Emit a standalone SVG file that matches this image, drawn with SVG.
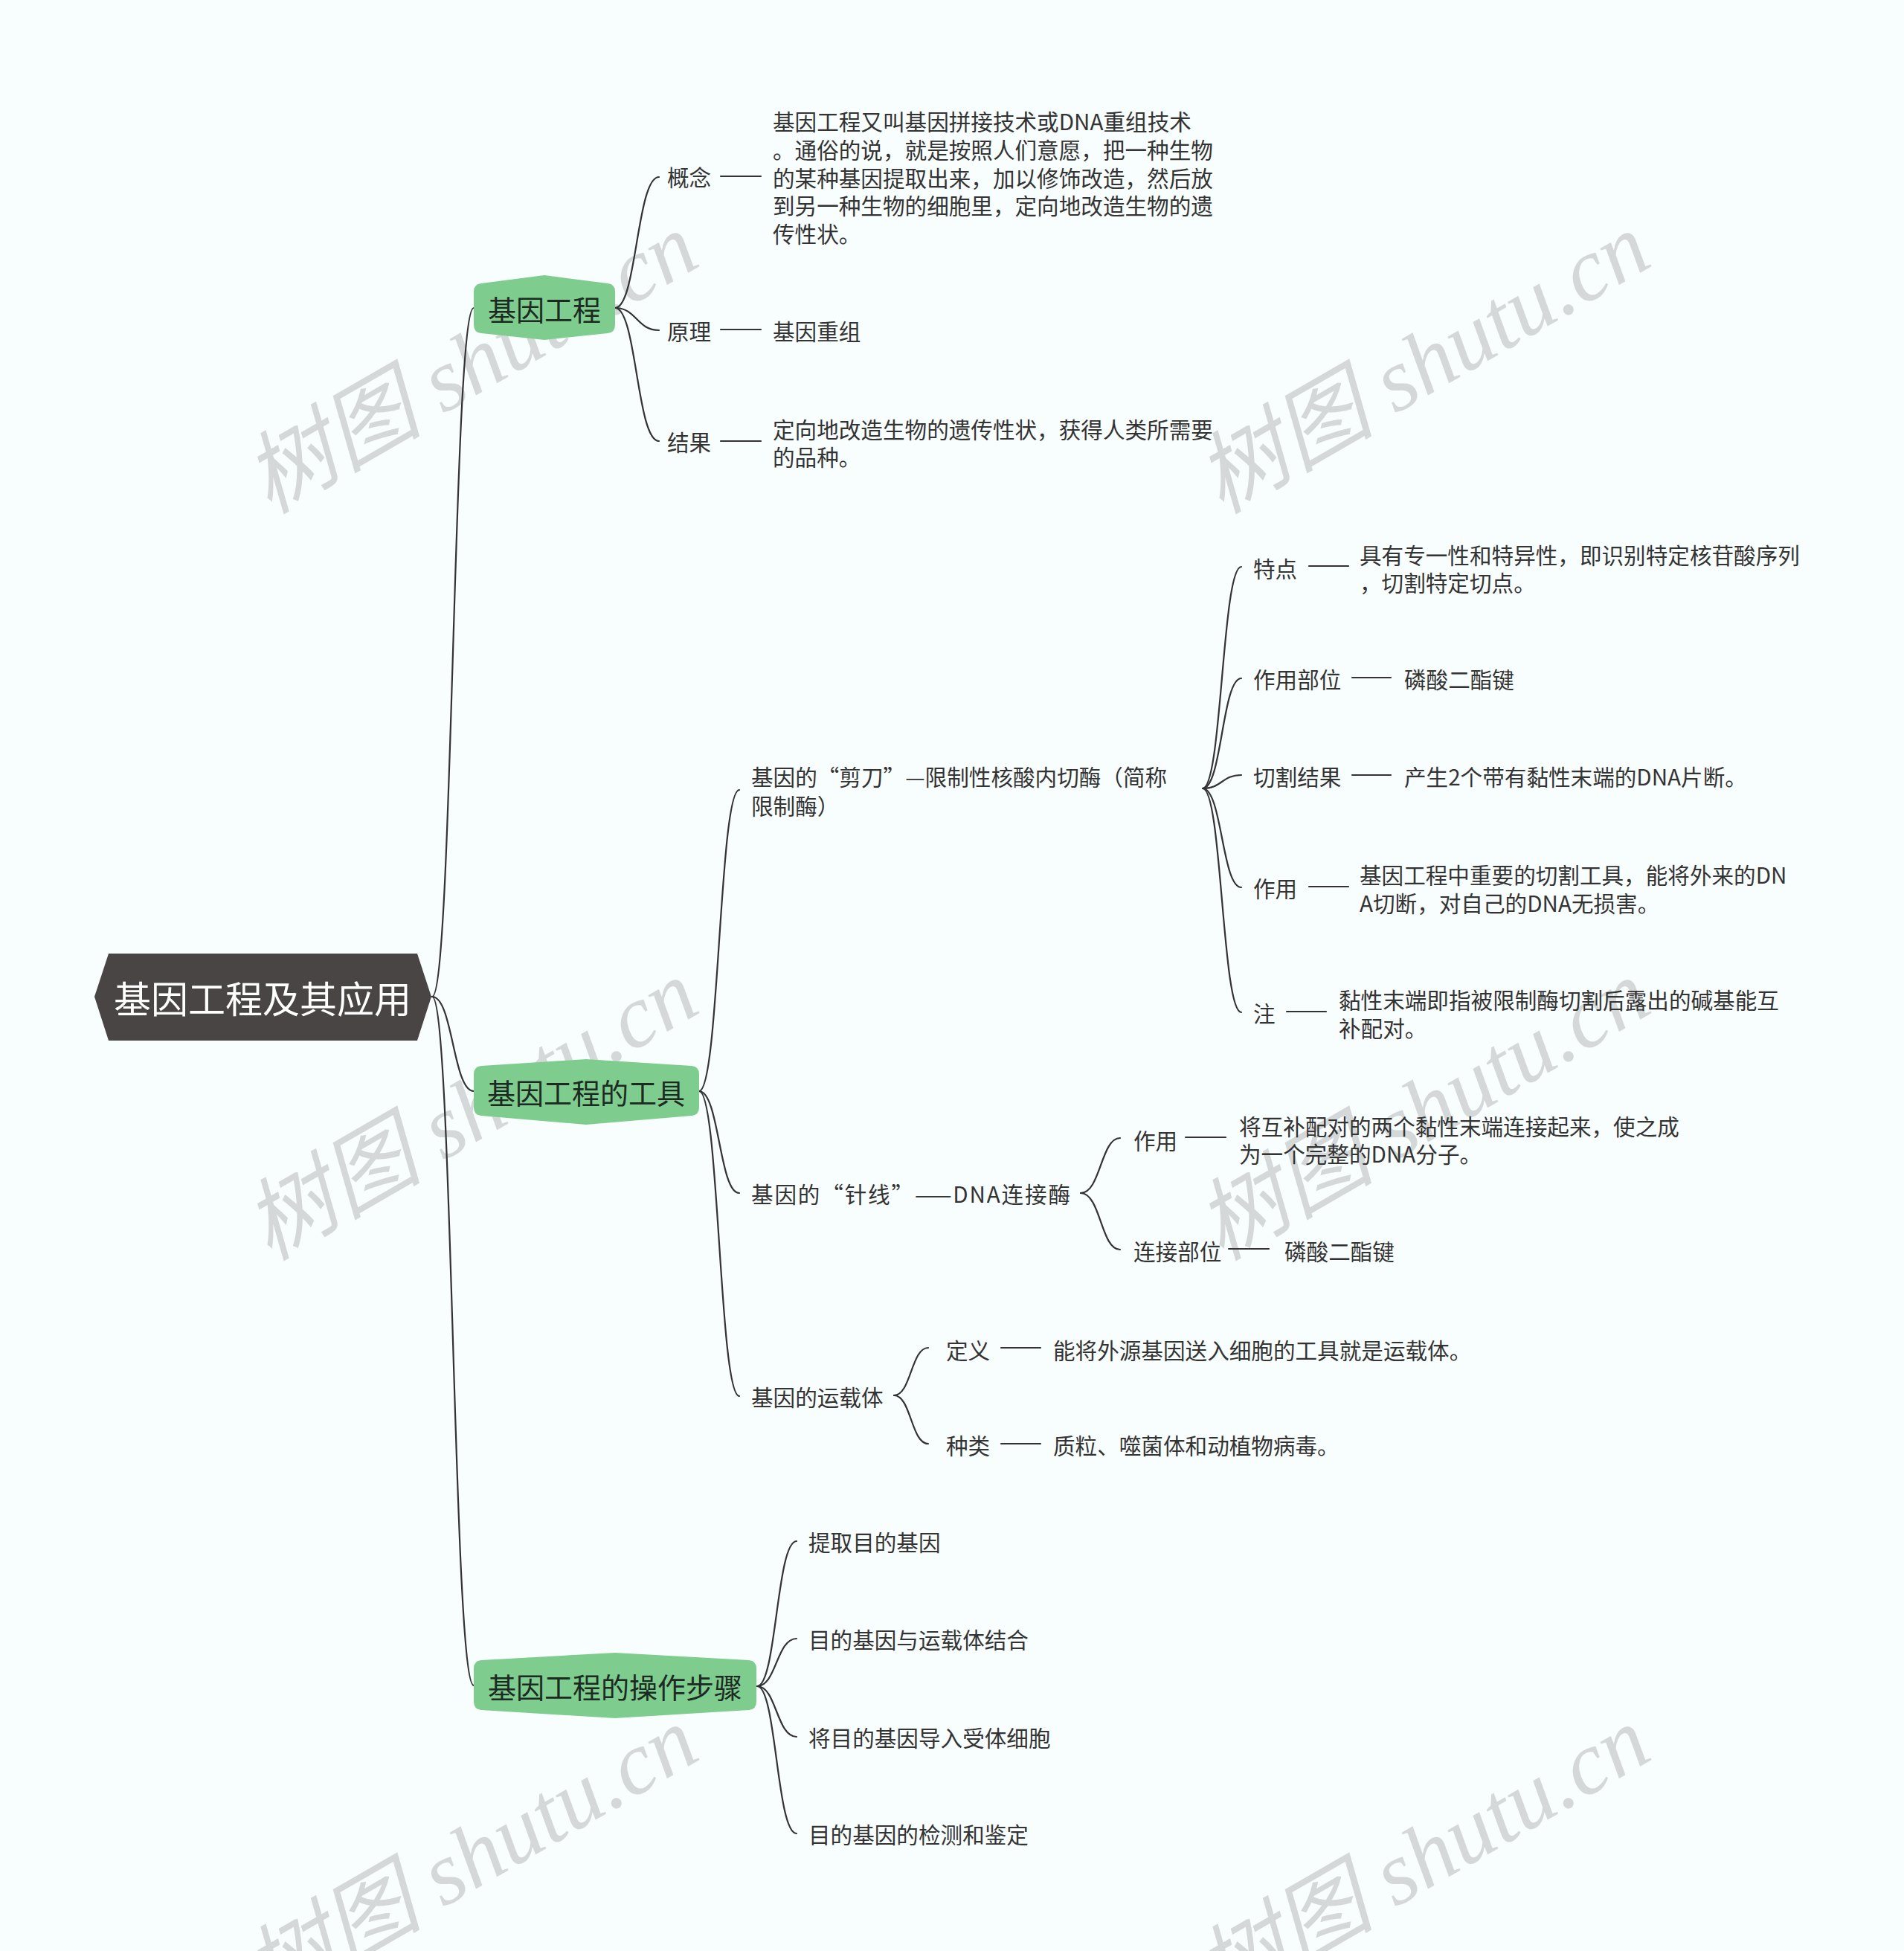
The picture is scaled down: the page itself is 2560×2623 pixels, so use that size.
<svg xmlns="http://www.w3.org/2000/svg" width="2560" height="2623" viewBox="0 0 2560 2623">
<defs>
<style>
.bg{fill:#f8fdfd}
.wm{font-family:"Liberation Serif","Noto Sans CJK SC",serif;font-style:italic;font-size:120px;fill:#d4d8d8}
.ln{fill:none;stroke:#333;stroke-width:2.2;stroke-linecap:round}
.t{font-family:"Noto Sans CJK SC","Noto Sans",sans-serif;font-size:29.6px;fill:#333;dominant-baseline:central}
.gt{font-family:"Noto Sans CJK SC","Noto Sans",sans-serif;font-size:38px;fill:#1d2a21;dominant-baseline:central;text-anchor:middle}
.rt{font-family:"Noto Sans CJK SC","Noto Sans",sans-serif;font-size:50px;fill:#ffffff;dominant-baseline:central;text-anchor:middle}
.gn{fill:#7ecd8f}
.rn{fill:#4a4545}
</style>
</defs>
<rect class="bg" x="0" y="0" width="2560" height="2623"/>

<g id="watermarks">
<text class="wm" transform="translate(362,692) rotate(-30)">树图 shutu.cn</text>
<text class="wm" transform="translate(1642,692) rotate(-30)">树图 shutu.cn</text>
<text class="wm" transform="translate(362,1696) rotate(-30)">树图 shutu.cn</text>
<text class="wm" transform="translate(1642,1696) rotate(-30)">树图 shutu.cn</text>
<text class="wm" transform="translate(362,2700) rotate(-30)">树图 shutu.cn</text>
<text class="wm" transform="translate(1642,2700) rotate(-30)">树图 shutu.cn</text>
</g>

<g id="connectors">
<path class="ln" d="M581,1340 C609,1340 609,414 637,414"/>
<path class="ln" d="M581,1340 C609,1340 609,1467 637,1467"/>
<path class="ln" d="M581,1340 C609,1340 609,2266 637,2266"/>

<path class="ln" d="M827,414 C856,414 856,238 886,238"/>
<path class="ln" d="M827,414 C856,414 856,444 886,444"/>
<path class="ln" d="M827,414 C856,414 856,593 886,593"/>
<path class="ln" d="M969,237 H1023"/>
<path class="ln" d="M969,443 H1023"/>
<path class="ln" d="M969,593 H1023"/>

<path class="ln" d="M940,1467 C967,1467 967,1062 994,1062"/>
<path class="ln" d="M940,1467 C967,1467 967,1604 994,1604"/>
<path class="ln" d="M940,1467 C967,1467 967,1877 994,1877"/>

<path class="ln" d="M1617,1060 C1643,1060 1643,762 1669,762"/>
<path class="ln" d="M1617,1060 C1643,1060 1643,912 1669,912"/>
<path class="ln" d="M1617,1060 C1643,1060 1643,1042 1669,1042"/>
<path class="ln" d="M1617,1060 C1643,1060 1643,1193 1669,1193"/>
<path class="ln" d="M1617,1060 C1643,1060 1643,1361 1669,1361"/>
<path class="ln" d="M1760,761 H1813"/>
<path class="ln" d="M1818,911 H1870"/>
<path class="ln" d="M1818,1042 H1870"/>
<path class="ln" d="M1760,1192 H1813"/>
<path class="ln" d="M1730,1360 H1783"/>

<path class="ln" d="M1453,1604 C1480,1604 1480,1530 1506,1530"/>
<path class="ln" d="M1453,1604 C1480,1604 1480,1680 1506,1680"/>
<path class="ln" d="M1594,1529 H1648"/>
<path class="ln" d="M1652,1679 H1706"/>

<path class="ln" d="M1202,1876 C1225,1876 1225,1812 1248,1812"/>
<path class="ln" d="M1202,1876 C1225,1876 1225,1941 1248,1941"/>
<path class="ln" d="M1346,1812 H1399"/>
<path class="ln" d="M1346,1941 H1399"/>

<path class="ln" d="M1018,2267 C1044,2267 1044,2072 1071,2072"/>
<path class="ln" d="M1018,2267 C1044,2267 1044,2203 1071,2203"/>
<path class="ln" d="M1018,2267 C1044,2267 1044,2335 1071,2335"/>
<path class="ln" d="M1018,2267 C1044,2267 1044,2465 1071,2465"/>
</g>

<g id="root">
<polygon class="rn" points="146,1282 561,1282 580,1340 561,1399 146,1399 127,1340"/>
<text class="rt" x="353" y="1340">基因工程及其应用</text>
</g>

<g id="n1">
<path class="gn" d="M637,392 Q637,382 647,381 L732,370 L817,381 Q827,382 827,392 L827,437 Q827,447 817,448 L732,457 L647,448 Q637,447 637,437 Z"/>
<text class="gt" x="732" y="414">基因工程</text>
</g>
<g id="n1a"><text class="t" x="897" y="237">概念</text></g>
<g id="n1a1"><text class="t" x="1039" y="162">基因工程又叫基因拼接技术或DNA重组技术</text><text class="t" x="1039" y="200">。通俗的说，就是按照人们意愿，把一种生物</text><text class="t" x="1039" y="238">的某种基因提取出来，加以修饰改造，然后放</text><text class="t" x="1039" y="275">到另一种生物的细胞里，定向地改造生物的遗</text><text class="t" x="1039" y="313">传性状。</text></g>
<g id="n1b"><text class="t" x="897" y="444">原理</text></g>
<g id="n1b1"><text class="t" x="1039" y="444">基因重组</text></g>
<g id="n1c"><text class="t" x="897" y="593">结果</text></g>
<g id="n1c1"><text class="t" x="1039" y="576">定向地改造生物的遗传性状，获得人类所需要</text><text class="t" x="1039" y="613">的品种。</text></g>

<g id="n2">
<path class="gn" d="M637,1444 Q637,1434 647,1433 L788,1424 L930,1433 Q940,1434 940,1444 L940,1489 Q940,1499 930,1500 L788,1512 L647,1500 Q637,1499 637,1489 Z"/>
<text class="gt" x="788" y="1467">基因工程的工具</text>
</g>
<g id="n2a"><text class="t" x="1010" y="1043">基因的“剪刀”—限制性核酸内切酶（简称</text><text class="t" x="1010" y="1082">限制酶）</text></g>
<g id="n2a1"><text class="t" x="1685" y="763">特点</text></g>
<g id="n2a1v"><text class="t" x="1828" y="745">具有专一性和特异性，即识别特定核苷酸序列</text><text class="t" x="1828" y="782">，切割特定切点。</text></g>
<g id="n2a2"><text class="t" x="1685" y="912">作用部位</text></g>
<g id="n2a2v"><text class="t" x="1888" y="912">磷酸二酯键</text></g>
<g id="n2a3"><text class="t" x="1685" y="1043">切割结果</text></g>
<g id="n2a3v"><text class="t" x="1888" y="1043">产生2个带有黏性末端的DNA片断。</text></g>
<g id="n2a4"><text class="t" x="1685" y="1193">作用</text></g>
<g id="n2a4v"><text class="t" x="1828" y="1175">基因工程中重要的切割工具，能将外来的DN</text><text class="t" x="1828" y="1213">A切断，对自己的DNA无损害。</text></g>
<g id="n2a5"><text class="t" x="1685" y="1361">注</text></g>
<g id="n2a5v"><text class="t" x="1800" y="1343">黏性末端即指被限制酶切割后露出的碱基能互</text><text class="t" x="1800" y="1381">补配对。</text></g>

<g id="n2b"><text class="t" x="1010" y="1604" textLength="429" lengthAdjust="spacing">基因的“针线”——DNA连接酶</text></g>
<g id="n2b1"><text class="t" x="1524" y="1532">作用</text></g>
<g id="n2b1v"><text class="t" x="1666" y="1513">将互补配对的两个黏性末端连接起来，使之成</text><text class="t" x="1666" y="1550">为一个完整的DNA分子。</text></g>
<g id="n2b2"><text class="t" x="1524" y="1681">连接部位</text></g>
<g id="n2b2v"><text class="t" x="1727" y="1681">磷酸二酯键</text></g>

<g id="n2c"><text class="t" x="1010" y="1877">基因的运载体</text></g>
<g id="n2c1"><text class="t" x="1272" y="1814">定义</text></g>
<g id="n2c1v"><text class="t" x="1416" y="1814">能将外源基因送入细胞的工具就是运载体。</text></g>
<g id="n2c2"><text class="t" x="1272" y="1942">种类</text></g>
<g id="n2c2v"><text class="t" x="1416" y="1942">质粒、噬菌体和动植物病毒。</text></g>

<g id="n3">
<path class="gn" d="M637,2243 Q637,2233 647,2232 L827,2222 L1007,2232 Q1017,2233 1017,2243 L1017,2288 Q1017,2298 1007,2299 L827,2310 L647,2299 Q637,2298 637,2288 Z"/>
<text class="gt" x="827" y="2266">基因工程的操作步骤</text>
</g>
<g id="n3a"><text class="t" x="1087" y="2072">提取目的基因</text></g>
<g id="n3b"><text class="t" x="1087" y="2203">目的基因与运载体结合</text></g>
<g id="n3c"><text class="t" x="1087" y="2335">将目的基因导入受体细胞</text></g>
<g id="n3d"><text class="t" x="1087" y="2465">目的基因的检测和鉴定</text></g>
</svg>
